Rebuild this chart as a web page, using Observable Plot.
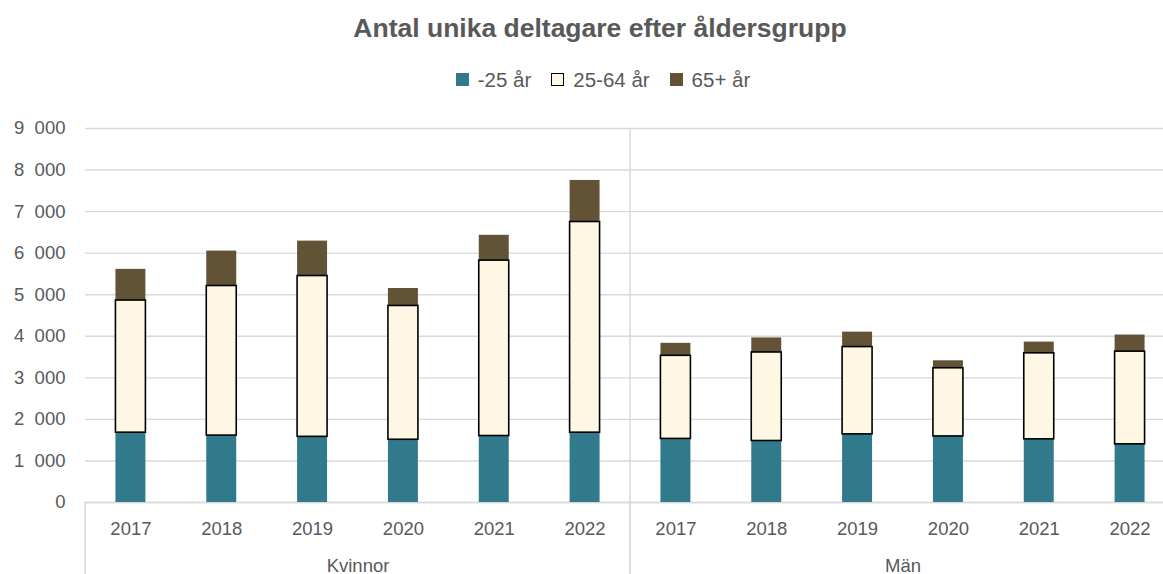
<!DOCTYPE html>
<html>
<head>
<meta charset="utf-8">
<script src="https://cdn.jsdelivr.net/npm/d3@7"></script>
<script src="https://cdn.jsdelivr.net/npm/@observablehq/plot@0.6"></script>
<style>
  html, body { margin: 0; padding: 0; background: #fff; }
  body { width: 1163px; height: 574px; overflow: hidden; position: relative;
         font-family: "Liberation Sans", Arial, sans-serif; color: #595959; }
  #title { position: absolute; left: 37px; width: 1126px; top: 12.5px; line-height: 30px;
           font-size: 26.5px; font-weight: bold; text-align: center; }
  #legend { position: absolute; left: 43px; width: 1120px; top: 66.5px; height: 26px;
            display: flex; justify-content: center; align-items: center; font-size: 20.5px; line-height: 26px; }
  .item { display: flex; align-items: center; margin: 0 10px; }
  .sw { width: 13px; height: 13px; margin-right: 9px; box-sizing: border-box; }
  #chart { position: absolute; left: 0; top: 110px; width: 1175px; }
  #chart svg { max-width: none !important; }
</style>
</head>
<body>
<div id="title">Antal unika deltagare efter åldersgrupp</div>
<div id="legend"></div>
<div id="chart"></div>
<script>
// ---- data ----
const groups = ["Kvinnor", "Män"];
const years = ["2017", "2018", "2019", "2020", "2021", "2022"];
const ageGroups = ["-25 år", "25-64 år", "65+ år"];
const ageColors = ["#307a8c", "#fef7e4", "#625337"];

const kvinnorUnder25 = [1680, 1610, 1580, 1510, 1600, 1680];
const kvinnor25to64  = [3180, 3600, 3870, 3220, 4220, 5070];
const kvinnor65plus  = [750, 840, 840, 420, 610, 1000];

const manUnder25 = [1530, 1480, 1640, 1590, 1520, 1400];
const man25to64  = [2000, 2130, 2100, 1640, 2070, 2230];
const man65plus  = [300, 350, 360, 180, 270, 400];

const yTicks = [0, 1000, 2000, 3000, 4000, 5000, 6000, 7000, 8000, 9000];

// ---- table ----
const series = {
  "Kvinnor": [kvinnorUnder25, kvinnor25to64, kvinnor65plus],
  "Män": [manUnder25, man25to64, man65plus]
};
const data = [];
for (const g of groups) {
  years.forEach((yr, i) => {
    ageGroups.forEach((age, k) => {
      data.push({group: g, year: yr, age, value: series[g][k][i]});
    });
  });
}

// ---- legend ----
const legend = document.getElementById("legend");
ageGroups.forEach((a, i) => {
  const it = document.createElement("div");
  it.className = "item";
  const sw = document.createElement("span");
  sw.className = "sw";
  sw.style.background = ageColors[i];
  if (a === "25-64 år") sw.style.border = "1.7px solid #000";
  const t = document.createElement("span");
  t.textContent = a;
  it.appendChild(sw); it.appendChild(t);
  legend.appendChild(it);
});

const fmt = d => d3.format(",")(d).replace(/,/g, "\u2007");
const grid = "#d9d9d9";

const separators = (index, scales, values, dims) => {
  const {width, height, marginLeft, marginRight, marginTop} = dims;
  const fx = scales.fx;
  const xm = fx ? fx("Män") : marginLeft + (width - marginLeft - marginRight) / 2;
  const x0 = fx ? fx("Kvinnor") : marginLeft;
  const y0 = scales.y(0);
  const g = d3.create("svg:g").attr("stroke", grid).attr("stroke-width", 1.5);
  g.append("line").attr("x1", xm).attr("x2", xm).attr("y1", marginTop).attr("y2", height);
  g.append("line").attr("x1", x0).attr("x2", x0).attr("y1", y0).attr("y2", height);
  return g.node();
};

const plot = Plot.plot({
  width: 1175,
  height: 464,
  marginTop: 18,
  marginBottom: 72,
  marginLeft: 85,
  marginRight: 0,
  style: {fontFamily: "'Liberation Sans', Arial, sans-serif", fontSize: "18.5px", color: "#595959",
          background: "#fff", overflow: "visible", maxWidth: "none"},
  fx: {domain: groups, padding: 0, round: false, label: null, axis: null},
  x: {domain: years, paddingInner: 0.67, paddingOuter: 0.335, round: false, label: null, axis: null},
  y: {domain: [0, 9000], label: null, axis: null},
  color: {domain: ageGroups, range: ageColors},
  marks: [
    Plot.gridY(yTicks, {stroke: grid, strokeOpacity: 1, strokeWidth: 1.4}),
    Plot.axisY(yTicks, {tickSize: 0, tickPadding: 20, tickFormat: fmt, fill: "#595959", fontSize: 18.5, label: null}),
    Plot.axisX({tickSize: 0, tickPadding: 19, fill: "#595959", fontSize: 18.5, label: null}),
    Plot.axisFx({anchor: "bottom", tickSize: 0, tickPadding: 56, fill: "#595959", fontSize: 18.5, label: null}),
    Plot.ruleY([0], {stroke: grid, strokeWidth: 1.5}),
    Plot.barY(data, {fx: "group", x: "year", y: "value", fill: "age"}),
    Plot.barY(data, {fx: "group", x: "year", y: "value", fill: "none", stroke: "#000", strokeWidth: 1.6,
                     strokeOpacity: d => d.age === "25-64 år" ? 1 : 0}),
    separators
  ]
});
document.getElementById("chart").appendChild(plot);
</script>
</body>
</html>
